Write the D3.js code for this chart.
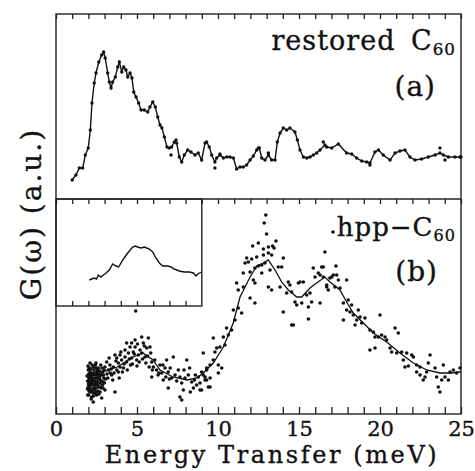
<!DOCTYPE html>
<html>
<head>
<meta charset="utf-8">
<script src="https://cdn.jsdelivr.net/npm/d3@7"></script>
<style>
  body { margin: 0; background: #fff; }
  text { font-family: "DejaVu Serif", serif; fill: #111; stroke: #111; stroke-width: 0.35px; }
</style>
</head>
<body>
<svg id="chart" width="475" height="471"></svg>
<script>
// Energy transfer (meV) and G(w) in arbitrary units.

// (a) restored C60: measured points, joined by a line
var restored = [[1.0,1.9],[1.23,2.4],[1.44,3.1],[1.65,3.1],[1.81,4.4],[1.99,5.1],[2.12,6.9],[2.22,9.6],[2.36,11.6],[2.47,12.6],
  [2.64,13.7],[2.82,14.4],[2.94,14.7],[3.04,14.1],[3.19,12.6],[3.29,11.7],[3.40,11.1],[3.50,11.7],[3.66,12.2],[3.81,13.2],
  [3.91,13.7],[4.06,12.7],[4.18,13.2],[4.32,12.9],[4.43,12.2],[4.57,12.6],[4.69,12.1],[4.80,10.7],[4.94,10.2],[5.10,9.6],
  [5.25,8.9],[5.45,8.9],[5.66,8.7],[5.80,9.2],[5.97,9.7],[6.13,9.2],[6.28,8.2],[6.42,7.4],[6.54,7.1],[6.69,6.2],
  [6.85,5.2],[6.99,5.1],[7.14,5.2],[7.30,5.7],[7.45,5.6],[7.61,4.2],[7.76,3.7],[7.92,4.4],[8.13,4.9],[8.33,4.7],
  [8.58,4.4],[8.78,4.6],[8.99,3.9],[9.20,5.6],[9.30,5.7],[9.46,5.2],[9.61,4.4],[9.81,3.7],[9.92,4.1],[10.12,4.4],
  [10.33,4.1],[10.54,4.2],[10.74,4.2],[10.95,4.1],[11.15,3.0],[11.36,3.2],[11.56,3.2],[11.77,3.4],[11.98,3.9],[12.18,4.3],
  [12.39,4.9],[12.55,5.1],[12.70,4.1],[12.90,3.9],[13.11,4.4],[13.31,3.9],[13.52,3.9],[13.66,5.7],[13.83,6.6],[14.03,7.1],
  [14.24,6.9],[14.44,7.1],[14.75,6.7],[14.90,5.9],[15.06,4.9],[15.27,4.2],[15.48,4.1],[15.68,4.2],[15.88,4.4],[16.09,4.6],
  [16.30,4.9],[16.60,5.4],[16.71,5.2],[17.02,5.1],[17.43,5.5],[17.94,4.6],[18.25,4.5],[18.56,4.1],[18.87,3.8],[19.18,3.7],
  [19.38,3.6],[19.69,4.7],[19.90,4.9],[20.20,4.4],[20.62,3.9],[20.93,4.6],[21.23,4.8],[21.54,4.9],[21.85,4.2],[22.16,3.9],
  [22.57,4.0],[22.98,4.2],[23.40,4.4],[23.70,4.6],[23.91,4.4],[24.22,4.2],[24.63,4.2],[24.94,4.2],[25.0,4.2]];
// a few points of (a) lying off the line
var restoredOff = [[7.10,4.4],[7.41,5.9],[9.81,3.1],[10.12,4.5],[12.49,5.1],[13.11,4.6],[16.50,5.7],[19.38,3.4],[23.70,5.1],[24.01,3.9]];

// (b) hpp-C60: smoothed curve
var hppLine = [[1.98,3.7],[2.72,4.1],[3.77,4.7],[4.75,5.7],[5.37,6.1],[5.99,5.4],[6.42,4.4],[7.22,3.7],[8.09,3.4],[8.70,3.6],
  [9.09,4.1],[9.71,5.1],[10.33,6.7],[10.94,9.1],[11.36,11.7],[11.98,13.7],[12.39,14.8],[12.80,15.1],[13.10,15.4],[13.52,14.4],
  [13.93,13.2],[14.34,12.4],[14.86,11.7],[15.17,11.7],[15.68,12.6],[16.09,13.1],[16.60,13.7],[16.91,13.2],[17.53,12.4],[17.94,11.2],
  [18.35,10.1],[18.97,9.1],[19.59,8.1],[20.41,7.2],[21.23,6.1],[22.06,5.1],[22.88,4.4],[23.70,4.1],[24.43,4.1],[24.83,4.2],[25.0,4.2]];
// (b) hpp-C60: measured points
var hppDots = [
  [1.99,4.4],[2.10,3.9],[2.06,3.4],[2.20,3.1],[1.99,2.7],[2.30,2.6],[2.10,2.2],[2.41,2.1],[2.20,1.7],[2.51,1.9],
  [2.72,2.2],[2.61,2.7],[2.41,3.6],[2.51,4.2],[2.30,4.7],[2.61,4.6],[2.82,3.9],[2.92,3.2],[2.72,3.1],[2.82,1.6],
  [2.30,1.2],[3.02,2.4],[2.10,5.1],[2.47,5.1],[2.76,4.9],[2.20,3.7],[2.35,2.9],[2.55,3.2],[2.67,3.7],[2.88,4.2],
  [1.95,3.3],[2.02,4.0],[2.15,4.5],[2.25,3.5],[2.33,4.1],[2.45,2.6],[2.57,2.3],[2.63,4.0],[2.78,2.6],[2.95,3.6],
  [2.04,2.3],[2.18,2.9],[2.38,3.3],[2.48,4.6],[2.70,3.5],[2.86,2.9],[2.00,3.0],[2.28,2.1],[2.53,3.6],[2.97,4.4],
  [1.92,3.8],[1.94,2.5],[1.97,4.8],[2.01,1.9],[2.03,3.6],[2.05,4.6],[2.07,2.8],[2.09,3.2],[2.12,4.2],[2.13,2.5],
  [2.16,3.4],[2.17,1.5],[2.19,4.0],[2.22,2.3],[2.23,4.9],[2.26,3.0],[2.27,3.9],[2.31,3.3],[2.32,1.8],[2.34,4.4],
  [2.37,2.4],[2.39,3.9],[2.42,2.9],[2.43,4.9],[2.46,3.1],[2.50,2.2],[2.52,3.9],[2.56,4.4],[2.58,2.9],[2.60,3.4],
  [2.65,2.0],[2.68,4.3],[2.71,2.7],[2.74,3.9],[2.80,3.3],[2.84,4.6],[2.90,2.6],[2.93,3.9],[2.99,3.1],[1.96,1.9],
  [3.02,4.7],[3.13,5.2],[3.23,4.4],[3.33,4.9],[3.44,3.9],[3.54,4.7],[3.64,5.9],[3.64,2.2],[3.75,4.4],[3.85,5.1],
  [3.95,4.7],[4.05,5.4],[4.16,4.6],[4.26,5.7],[4.36,5.2],[4.47,6.1],[4.57,6.7],[4.67,5.6],[4.77,6.2],[4.88,6.7],
  [4.98,5.4],[5.08,5.9],[5.19,6.4],[5.29,6.1],[5.39,7.1],[5.49,5.7],[5.60,6.6],[5.70,7.6],[5.80,6.7],[5.91,5.2],
  [5.29,7.7],[4.88,7.4],[4.67,7.1],[4.36,7.1],[4.26,6.4],[3.95,5.9],[3.75,5.6],[4.92,10.3],[3.20,3.6],[3.50,3.4],
  [4.10,4.2],[4.60,4.9],[5.00,4.8],[5.55,5.1],[3.35,4.1],[3.85,4.2],
  [3.05,3.5],[3.15,4.0],[3.28,5.6],[3.40,4.5],[3.58,4.1],[3.70,5.3],[3.90,3.6],[4.00,6.2],[4.20,5.0],[4.40,4.4],
  [4.52,5.5],[4.72,5.0],[4.83,6.0],[5.03,7.0],[5.14,5.2],[5.34,5.5],[5.45,6.8],[5.65,5.8],[5.75,4.7],[5.85,6.1],
  [5.95,4.4],[6.10,5.4],[6.35,4.1],[6.60,4.9],[6.78,3.7],[7.05,4.6],[7.45,3.3],[7.90,4.4],[8.25,4.6],[8.60,3.9],
  [6.01,4.7],[6.21,4.4],[6.42,4.9],[6.52,4.1],[6.73,4.6],[6.93,4.2],[7.14,3.6],[6.83,5.4],[7.24,5.7],[7.35,3.9],
  [7.55,4.4],[7.65,3.7],[7.76,3.1],[7.96,3.6],[8.07,5.4],[8.17,3.9],[8.38,3.2],[8.48,2.6],[8.68,2.9],[8.79,3.7],
  [8.89,2.4],[9.20,3.4],[9.30,4.4],[9.40,2.7],[7.65,1.7],[7.76,1.4],[6.93,2.6],[7.86,2.4],[8.29,2.2],[5.91,3.7],
  [6.62,3.4],[6.30,3.9],[7.00,3.5],[8.55,3.4],
  [8.89,3.1],[8.99,2.4],[9.51,2.7],[9.20,3.7],[9.30,3.4],[9.51,3.6],[8.99,4.2],[9.09,3.9],[10.02,4.1],[9.30,4.6],
  [9.51,4.9],[10.02,4.9],[10.23,4.6],[9.71,5.4],[9.09,6.1],[9.81,6.2],[9.92,6.6],[10.12,6.7],[10.43,6.9],[9.71,7.6],
  [10.33,7.7],[10.64,7.9],[10.53,8.6],[10.84,8.4],[11.05,9.4],[10.95,10.4],[11.25,10.6],[11.46,10.1],
  [11.15,13.1],[11.25,12.4],[11.56,12.7],[11.98,11.6],[12.28,11.1],[11.56,14.1],[11.98,14.2],[12.28,14.6],[12.49,14.8],[12.70,14.9],
  [12.90,15.1],[13.21,14.4],[13.72,14.7],[13.93,14.7],[12.18,13.4],[12.28,13.1],[12.70,14.1],[13.11,12.7],[13.31,12.4],[13.83,12.7],
  [11.77,15.6],[12.08,15.5],[11.67,15.1],[11.87,15.2],[12.39,15.7],[12.80,15.9],[13.11,16.1],[13.31,15.9],[14.03,15.6],
  [12.14,16.8],[12.49,17.1],[12.80,16.5],[13.11,16.7],[13.37,16.8],[13.46,16.6],[13.58,17.3],[13.0,18.0],[12.85,19.1],[12.95,19.9],
  [14.34,13.2],[14.44,12.9],[14.24,12.1],[14.55,12.2],[14.75,11.2],[14.86,10.9],[14.96,13.1],[15.06,13.2],[15.27,13.2],[15.17,11.1],
  [15.47,11.9],[15.68,12.1],[15.78,11.2],[15.58,10.7],[14.03,10.2],[14.55,8.9],[14.65,8.9],[15.58,9.5],
  [15.88,14.6],[16.40,14.7],[16.19,14.1],[15.99,13.7],[16.30,13.9],[16.50,13.7],[16.71,12.9],[16.81,12.4],[16.60,16.2],[16.30,11.1],
  [16.50,14.7],[17.28,14.8],[17.12,13.9],[17.02,13.7],[17.33,13.9],[16.91,13.6],[17.43,13.4],[16.71,12.7],[17.22,12.7],[17.53,12.6],
  [17.94,13.4],[17.1,18.2],
  [17.74,11.1],[18.04,11.4],[18.25,10.9],[17.94,10.4],[18.15,10.2],[18.35,9.9],[18.66,10.4],[17.74,9.4],[18.56,9.4],[18.77,9.7],
  [18.46,8.9],[19.07,9.6],[20.00,9.9],[18.87,9.1],[19.38,8.4],[19.69,7.7],[19.90,7.7],[20.10,7.9],[20.31,7.7],[19.59,8.2],
  [20.41,7.4],[20.93,8.6],[21.13,8.1],[19.38,6.4],[19.69,6.6],[20.62,6.6],[20.72,6.2],[21.03,6.1],[21.34,6.2],[21.65,6.1],
  [21.96,5.9],[22.06,5.7],[21.44,5.4],[21.54,4.7],[21.75,4.8],[22.26,4.9],[22.47,4.7],[23.09,5.9],[22.26,4.2],[22.47,3.9],
  [22.88,4.2],[22.98,5.1],[23.40,4.6],[23.91,4.9],[22.78,3.7],[23.50,3.7],[23.81,3.4],[24.01,3.7],[24.32,4.2],[24.53,4.4],
  [24.73,4.1],[24.94,4.6],[24.22,3.4],[23.60,2.7],[23.70,2.2],[22.67,3.4]];

// inset of (b): low-energy part on an expanded scale
var insetLine = [[2.06,2.6],[2.20,2.7],[2.36,2.8],[2.50,2.7],[2.61,3.1],[2.78,2.9],[2.92,3.1],[3.09,3.3],[3.29,3.6],[3.50,4.2],
  [3.70,4.0],[3.87,3.9],[4.12,4.6],[4.43,5.3],[4.73,5.9],[4.90,6.0],[5.04,5.9],[5.25,5.8],[5.45,5.9],[5.60,5.8],
  [5.76,5.7],[5.97,5.4],[6.17,4.8],[6.38,4.3],[6.59,4.0],[6.90,4.0],[7.10,3.9],[7.30,3.7],[7.61,3.5],[7.92,3.4],
  [8.23,3.4],[8.48,3.3],[8.64,3.0],[8.75,3.2],[8.99,3.4]];

var energyTicks = d3.range(0, 26);
var energyLabels = [0, 5, 10, 15, 20, 25];

var svg = d3.select('#chart');

var x = d3.scaleLinear().domain([0, 25]).range([56, 461]);
var yA = d3.scaleLinear().domain([0, 18.5]).range([199, 14]);
var yB = d3.scaleLinear().domain([0, 21.5]).range([414, 199]);
var xIn = d3.scaleLinear().domain([0, 9]).range([56, 201.8]);
var yIn = d3.scaleLinear().domain([0, 10.7]).range([306, 199]);

// axes (ticks point into the panels)
function styleAxis(g) {
  g.select('.domain').remove();
  g.selectAll('.tick line').attr('stroke', '#222').attr('stroke-width', 1.3);
}

svg.append('g').attr('transform', 'translate(0,14)')
  .call(d3.axisTop(x).tickValues(energyTicks).tickSize(-5).tickFormat(''))
  .call(styleAxis);
svg.append('g').attr('transform', 'translate(0,199)')
  .call(d3.axisTop(x).tickValues(energyTicks).tickSize(-5).tickFormat(''))
  .call(styleAxis);
svg.append('g').attr('transform', 'translate(0,306)')
  .call(d3.axisBottom(xIn).tickValues(d3.range(1, 9)).tickSize(-5).tickFormat(''))
  .call(styleAxis);

var bottom = svg.append('g').attr('transform', 'translate(0,414)')
  .call(d3.axisBottom(x).tickValues(energyTicks).tickSize(-7)
    .tickFormat(function(d) { return energyLabels.indexOf(d) >= 0 ? d : ''; }))
  .call(styleAxis);
bottom.selectAll('.tick text')
  .attr('y', 7).attr('dy', '0.71em')
  .style('font-family', '"DejaVu Serif", serif')
  .style('font-size', '21px').attr('fill', '#111');

// frames
svg.append('rect').attr('x', 56).attr('y', 14).attr('width', 405).attr('height', 400)
  .attr('fill', 'none').attr('stroke', '#222').attr('stroke-width', 1.4);
svg.append('line').attr('x1', 56).attr('x2', 461).attr('y1', 199).attr('y2', 199)
  .attr('stroke', '#222').attr('stroke-width', 1.4);
svg.append('rect').attr('x', 56).attr('y', 199).attr('width', 145.8).attr('height', 107)
  .attr('fill', 'none').attr('stroke', '#222').attr('stroke-width', 1.4);

// panel (a)
var lineA = d3.line().x(function(d) { return x(d[0]); }).y(function(d) { return yA(d[1]); });
svg.append('path').datum(restored).attr('d', lineA)
  .attr('fill', 'none').attr('stroke', '#111').attr('stroke-width', 1.4);
svg.append('g').selectAll('circle').data(restored.concat(restoredOff)).join('circle')
  .attr('cx', function(d) { return x(d[0]); })
  .attr('cy', function(d) { return yA(d[1]); })
  .attr('r', 1.7).attr('fill', '#111');

// panel (b)
var lineB = d3.line().x(function(d) { return x(d[0]); }).y(function(d) { return yB(d[1]); });
svg.append('g').selectAll('circle').data(hppDots).join('circle')
  .attr('cx', function(d) { return x(d[0]); })
  .attr('cy', function(d) { return yB(d[1]); })
  .attr('r', 1.8).attr('fill', '#111');
svg.append('path').datum(hppLine).attr('d', lineB)
  .attr('fill', 'none').attr('stroke', '#111').attr('stroke-width', 1.3);

// inset
var lineIn = d3.line().x(function(d) { return xIn(d[0]); }).y(function(d) { return yIn(d[1]); });
svg.append('path').datum(insetLine).attr('d', lineIn)
  .attr('fill', 'none').attr('stroke', '#111').attr('stroke-width', 1.4);

// labels
function label(txt, sub, xx, yy, size) {
  var t = svg.append('text').attr('x', xx).attr('y', yy).attr('text-anchor', 'end')
    .style('font-size', size + 'px').style('letter-spacing', '1px').style('word-spacing', '6px').text(txt);
  if (sub) {
    t.append('tspan').attr('dy', 5).style('font-size', (size * 0.62) + 'px').text(sub);
  }
}
label('restored C', '60', 456, 50, 27);
label('(a)', null, 436, 96, 28);
label('hpp\u2212C', '60', 456, 236, 26);
label('(b)', null, 438, 281, 28);

svg.append('text').attr('x', 272).attr('y', 463).attr('text-anchor', 'middle')
  .style('font-size', '24px').style('letter-spacing', '2.6px').text('Energy Transfer (meV)');
svg.append('text').attr('transform', 'translate(41,214) rotate(-90)').attr('text-anchor', 'middle')
  .style('font-size', '28px').style('letter-spacing', '2px').text('G(\u03c9) (a.u.)');
</script>
</body>
</html>
